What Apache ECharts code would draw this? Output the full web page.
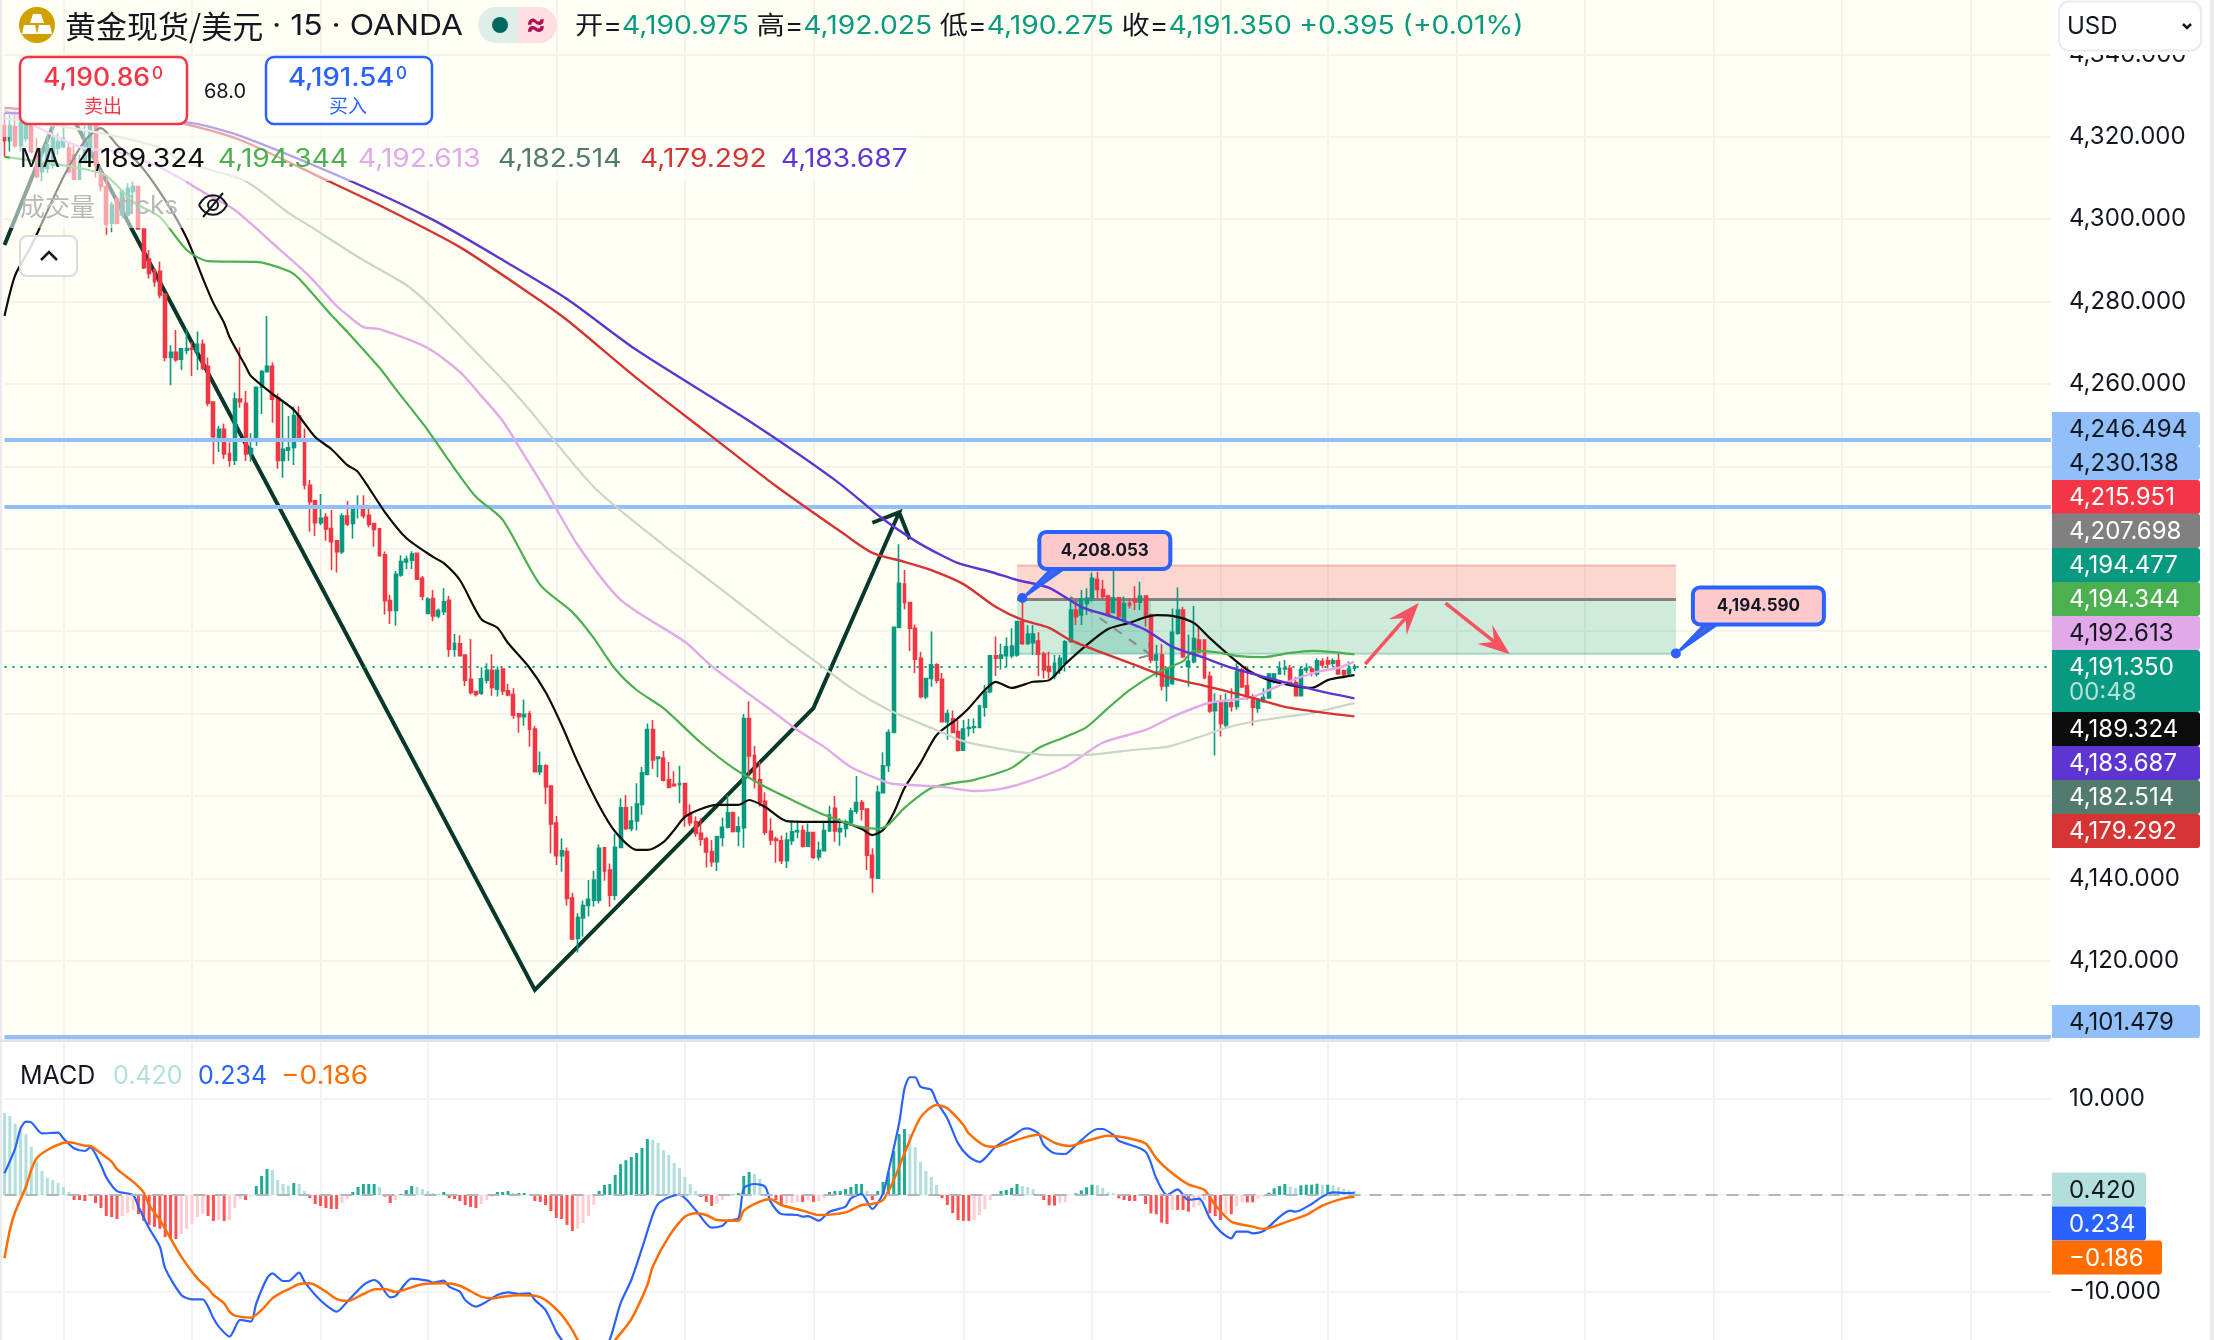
<!DOCTYPE html>
<html>
<head>
<meta charset="utf-8">
<title>黄金现货/美元 15 OANDA</title>
<style>html,body{margin:0;padding:0;background:#fff}#chart{width:2214px;height:1340px}</style>
<script src="https://cdn.jsdelivr.net/npm/echarts@6/dist/echarts.min.js"></script>
</head>
<body>
<div id="chart"></div>
<script>
// 15-minute candles, one row per bar: open, close, low, high
const candleRows = [
[4322.7,4319.0,4315.2,4325.7],[4319.0,4322.7,4316.4,4325.3],[4322.4,4317.8,4317.3,4326.1],[4317.8,4324.1,4316.4,4326.9],
[4319.6,4322.8,4318.8,4326.5],[4322.8,4316.4,4316.0,4325.3],[4316.4,4310.3,4309.9,4319.6],[4311.5,4313.5,4309.1,4317.2],
[4312.3,4318.0,4311.1,4320.4],[4313.1,4319.6,4312.3,4322.8],[4317.2,4318.8,4315.6,4320.8],[4317.6,4319.6,4317.2,4322.8],
[4317.2,4311.5,4311.1,4318.8],[4315.6,4309.7,4309.5,4318.4],[4309.7,4313.5,4309.5,4315.6],[4313.9,4318.8,4313.5,4322.8],
[4315.6,4322.8,4314.8,4324.5],[4322.8,4313.1,4310.1,4323.7],[4310.7,4307.9,4306.7,4311.9],[4307.9,4298.7,4296.2,4309.9],
[4299.0,4303.4,4296.8,4304.2],[4305.0,4299.0,4298.7,4305.2],[4301.0,4306.7,4300.2,4307.1],[4301.0,4307.5,4300.6,4308.7],
[4306.7,4307.9,4303.4,4309.1],[4307.9,4297.6,4297.4,4307.9],[4297.6,4288.2,4287.9,4297.8],[4290.3,4286.8,4285.6,4292.5],
[4287.7,4284.8,4283.6,4288.1],[4287.3,4281.6,4280.8,4289.7],[4281.8,4266.4,4265.5,4282.0],[4266.4,4267.7,4259.7,4269.4],
[4267.7,4265.9,4265.4,4273.1],[4266.0,4268.5,4263.4,4268.6],[4268.2,4268.6,4267.2,4273.5],[4268.6,4268.4,4261.9,4270.2],
[4267.8,4269.6,4263.4,4272.7],[4269.6,4263.8,4263.4,4270.8],[4264.3,4255.3,4254.6,4266.4],[4255.6,4247.2,4240.5,4255.7],
[4246.9,4249.0,4243.5,4249.8],[4249.0,4243.0,4241.8,4250.3],[4243.1,4241.5,4239.9,4245.8],[4241.5,4256.3,4240.3,4257.9],
[4256.3,4255.7,4254.2,4268.9],[4255.3,4243.0,4241.3,4258.3],[4243.0,4244.3,4241.1,4248.0],[4246.4,4259.2,4245.0,4259.2],
[4259.2,4263.0,4252.7,4263.4],[4263.0,4264.3,4262.7,4276.5],[4264.3,4256.3,4250.6,4265.2],[4256.7,4241.4,4239.4,4257.7],
[4241.4,4244.1,4237.2,4255.7],[4243.9,4244.5,4241.3,4252.2],[4244.6,4252.3,4240.3,4254.5],[4252.2,4246.4,4246.1,4254.6],
[4246.5,4235.5,4234.4,4249.2],[4235.4,4231.4,4224.1,4236.7],[4231.6,4226.3,4223.1,4231.8],[4226.3,4227.4,4225.7,4233.3],
[4227.6,4224.8,4221.9,4228.6],[4224.9,4221.7,4214.8,4229.4],[4221.9,4219.3,4214.2,4221.9],[4219.3,4227.9,4218.7,4228.6],
[4227.9,4226.0,4225.5,4231.6],[4226.1,4229.9,4222.4,4230.2],[4230.0,4230.4,4227.3,4233.0],[4230.1,4228.0,4227.3,4233.0],
[4228.1,4225.9,4225.2,4229.8],[4226.1,4224.7,4220.5,4226.1],[4224.8,4218.3,4218.2,4225.1],[4218.5,4207.4,4204.0,4219.3],
[4207.4,4205.0,4201.7,4208.8],[4205.0,4213.8,4201.3,4214.6],[4213.6,4216.9,4213.2,4218.4],[4216.8,4217.4,4215.1,4218.3],
[4217.2,4218.7,4215.1,4219.4],[4218.9,4212.6,4212.4,4218.9],[4212.8,4208.5,4207.5,4213.4],[4204.3,4207.7,4204.1,4208.2],
[4207.9,4203.7,4202.4,4210.0],[4203.7,4205.0,4203.1,4205.5],[4204.7,4207.1,4203.9,4210.4],[4207.5,4195.6,4193.8,4208.5],
[4195.6,4197.0,4193.8,4199.3],[4196.9,4194.0,4194.0,4199.0],[4194.2,4188.1,4186.7,4194.2],[4188.3,4185.1,4184.6,4198.1],
[4185.3,4184.6,4184.1,4185.5],[4184.9,4188.4,4184.5,4191.2],[4188.1,4190.5,4187.3,4192.2],[4190.5,4186.3,4184.3,4194.4],
[4185.9,4190.5,4184.1,4191.4],[4190.8,4185.5,4184.5,4190.8],[4185.5,4184.5,4184.2,4187.2],[4184.6,4179.6,4178.7,4186.1],
[4179.9,4179.2,4175.3,4179.9],[4179.2,4179.8,4177.0,4183.4],[4179.9,4176.2,4171.9,4180.6],[4176.2,4165.9,4165.9,4177.0],
[4165.9,4167.3,4165.1,4170.8],[4167.3,4162.2,4158.0,4167.7],[4162.4,4153.2,4146.1,4162.4],[4153.4,4145.5,4143.2,4155.1],
[4145.5,4146.7,4141.6,4149.7],[4146.5,4135.1,4133.4,4147.5],[4135.2,4125.3,4125.0,4136.5],[4125.4,4130.5,4122.0,4131.5],
[4130.4,4133.4,4125.8,4134.6],[4133.4,4134.9,4130.7,4139.6],[4134.7,4139.6,4133.1,4141.8],[4134.7,4147.3,4133.9,4148.2],
[4147.4,4141.8,4139.4,4147.6],[4142.0,4135.9,4133.1,4143.6],[4135.9,4147.5,4134.7,4150.8],[4147.5,4157.1,4147.3,4159.4],
[4157.1,4152.1,4151.7,4160.2],[4152.1,4153.9,4151.4,4157.5],[4153.9,4158.0,4151.6,4163.1],[4157.9,4165.6,4155.4,4167.0],
[4165.2,4176.1,4165.1,4177.6],[4176.1,4168.7,4166.5,4178.4],[4169.1,4169.4,4164.5,4169.4],[4169.2,4163.8,4163.5,4170.9],
[4163.9,4162.1,4161.8,4168.2],[4162.8,4162.5,4162.2,4166.0],[4162.7,4163.0,4158.2,4167.3],[4163.0,4155.1,4152.5,4163.0],
[4155.4,4153.5,4152.7,4158.0],[4153.7,4150.9,4150.1,4155.0],[4150.9,4149.5,4147.9,4154.6],[4149.5,4146.4,4142.6,4150.1],
[4146.5,4144.0,4142.8,4149.3],[4144.0,4150.1,4141.8,4150.3],[4149.9,4152.4,4147.7,4154.7],[4152.4,4155.9,4152.1,4160.2],
[4155.9,4151.4,4151.1,4156.2],[4151.4,4152.5,4147.8,4155.0],[4152.3,4178.8,4147.4,4179.9],[4178.8,4169.7,4164.3,4183.0],
[4169.8,4163.9,4161.8,4172.1],[4163.9,4158.4,4157.4,4168.3],[4158.7,4151.2,4150.5,4160.9],[4151.4,4149.3,4148.1,4154.6],
[4149.5,4149.2,4143.8,4150.1],[4149.1,4144.3,4143.5,4150.4],[4144.3,4149.3,4142.5,4151.1],[4149.1,4151.3,4148.1,4153.8],
[4151.3,4151.6,4149.7,4153.8],[4151.6,4147.8,4147.5,4152.9],[4147.8,4151.1,4147.8,4153.3],[4151.1,4145.1,4144.7,4151.2],
[4145.2,4146.8,4144.3,4148.9],[4146.7,4151.6,4146.7,4153.8],[4151.5,4155.4,4151.3,4157.6],[4157.0,4151.5,4148.9,4160.0],
[4151.3,4152.1,4147.9,4154.6],[4152.1,4153.7,4149.9,4154.2],[4153.5,4156.3,4153.2,4157.1],[4156.3,4158.4,4155.6,4164.8],
[4158.4,4156.8,4154.0,4159.0],[4156.8,4145.6,4142.0,4156.8],[4145.6,4140.2,4136.5,4147.3],[4140.0,4160.9,4139.8,4162.5],
[4160.8,4167.3,4160.6,4170.6],[4167.4,4175.4,4165.8,4176.2],[4175.4,4200.9,4175.2,4201.1],[4200.9,4211.6,4200.9,4221.1],
[4211.4,4206.9,4205.3,4214.8],[4206.9,4200.7,4195.2,4207.1],[4200.7,4193.2,4189.8,4201.6],[4193.4,4184.1,4183.7,4195.0],
[4184.1,4188.5,4183.5,4188.7],[4188.5,4191.8,4186.5,4199.9],[4191.8,4188.1,4187.3,4192.2],[4188.3,4178.0,4178.0,4189.8],
[4178.0,4180.0,4173.6,4181.0],[4178.7,4175.4,4175.2,4180.7],[4175.6,4171.1,4170.8,4178.4],[4171.1,4176.2,4171.0,4178.4],
[4176.4,4176.6,4174.4,4178.7],[4176.6,4176.8,4175.2,4178.8],[4176.6,4181.8,4176.4,4182.1],[4181.5,4185.3,4179.2,4186.9],
[4185.3,4194.0,4184.9,4194.0],[4194.0,4193.4,4189.1,4198.7],[4193.4,4194.2,4190.7,4196.9],[4194.0,4196.2,4191.2,4198.5],
[4194.0,4196.4,4193.4,4200.7],[4194.2,4202.3,4193.8,4202.3],[4202.3,4197.0,4196.6,4207.9],[4197.0,4199.3,4196.6,4201.4],
[4197.2,4199.3,4194.2,4201.5],[4197.6,4194.4,4189.1,4199.7],[4194.4,4190.6,4188.5,4195.0],[4191.4,4190.2,4188.5,4195.0],
[4189.0,4192.2,4188.3,4194.2],[4190.6,4193.4,4189.6,4194.2],[4192.2,4197.4,4190.2,4197.8],[4197.4,4205.1,4197.2,4208.2],
[4205.1,4203.5,4201.5,4207.5],[4203.9,4207.8,4201.5,4210.0],[4206.7,4208.0,4203.9,4210.4],[4208.0,4212.8,4207.2,4214.2],
[4212.6,4210.1,4208.0,4214.4],[4210.1,4208.4,4208.0,4212.4],[4208.5,4203.9,4203.5,4208.8],[4204.5,4208.1,4204.3,4215.0],
[4208.1,4203.5,4202.7,4208.2],[4202.7,4206.7,4202.3,4208.4],[4206.7,4206.3,4205.5,4207.6],[4207.8,4207.1,4205.1,4210.9],
[4207.1,4208.5,4205.1,4212.0],[4208.5,4203.9,4201.1,4208.5],[4203.9,4193.0,4192.2,4204.3],[4193.0,4194.2,4188.8,4196.6],
[4194.2,4186.7,4185.6,4196.8],[4186.7,4190.7,4182.9,4190.7],[4187.3,4199.7,4186.9,4205.5],[4199.5,4205.1,4199.1,4210.6],
[4205.1,4193.8,4193.4,4205.9],[4191.4,4192.7,4186.5,4199.1],[4192.6,4198.2,4192.2,4206.1],[4197.8,4195.0,4194.6,4201.2],
[4197.8,4188.7,4188.3,4197.8],[4189.0,4180.6,4180.2,4190.2],[4180.7,4182.7,4169.8,4184.9],[4182.7,4177.6,4174.4,4184.5],
[4177.2,4182.6,4176.4,4184.9],[4182.6,4181.7,4180.5,4186.1],[4181.7,4190.1,4180.9,4192.2],[4190.6,4186.5,4186.1,4191.1],
[4186.7,4183.7,4183.3,4191.4],[4183.9,4181.5,4177.1,4184.7],[4181.3,4183.3,4180.2,4183.3],[4182.9,4183.9,4182.6,4186.1],
[4183.8,4189.6,4183.6,4189.8],[4188.3,4189.6,4187.3,4189.8],[4189.6,4191.0,4189.4,4192.6],[4190.8,4191.0,4189.3,4193.0],
[4191.0,4187.3,4187.0,4191.8],[4187.5,4184.3,4184.1,4188.9],[4184.3,4190.6,4184.1,4191.4],[4190.6,4191.0,4189.8,4192.2],
[4190.8,4190.2,4189.0,4191.4],[4189.6,4192.8,4189.0,4193.4],[4192.6,4191.8,4191.0,4193.4],[4192.8,4192.0,4191.0,4193.8],
[4192.2,4192.8,4191.4,4193.4],[4192.8,4189.6,4189.4,4194.6],[4190.4,4189.4,4188.5,4190.6],[4189.7,4190.8,4189.0,4192.6],
[4190.975,4191.35,4190.275,4192.025]
];

// Moving averages, [bar, price]
const maBlack = [[0,4276.5],[2,4286.4],[5,4293.5],[11,4310.2],[15,4319.0],[18,4322.1],[21,4318.0],[25,4313.6],[30,4304.6],[34,4295.4],[37,4285.7],[39,4279.6],[41,4274.8],[42,4271.4],[45,4264.3],[46,4261.9],[50,4257.6],[54,4253.7],[58,4247.1],[61,4244.2],[64,4240.3],[66,4238.6],[71,4228.9],[75,4222.6],[80,4218.0],[82,4216.5],[85,4212.4],[89,4202.9],[92,4200.8],[94,4197.1],[98,4191.1],[101,4185.2],[104,4177.2],[107,4168.2],[111,4157.6],[114,4151.3],[118,4146.9],[120,4146.9],[123,4148.8],[125,4151.7],[127,4154.9],[130,4156.8],[133,4157.8],[137,4157.8],[139,4159.0],[142,4157.3],[146,4153.9],[152,4153.7],[156,4153.7],[160,4152.0],[162,4150.5],[164,4151.7],[166,4155.9],[168,4161.9],[171,4168.0],[174,4174.8],[178,4178.9],[180,4181.3],[183,4185.7],[185,4187.7],[188,4186.2],[192,4187.7],[195,4188.1],[198,4192.0],[202,4196.6],[206,4200.5],[210,4202.0],[213,4203.4],[215,4203.9],[218,4203.7],[222,4202.0],[225,4198.3],[229,4193.7],[232,4190.6],[236,4188.1],[240,4186.9],[244,4186.2],[247,4188.1],[250,4188.9],[252,4189.324]];
const maGreen = [[0,4315.1],[14,4312.4],[19,4310.5],[24,4304.2],[29,4300.5],[34,4292.5],[38,4289.8],[47,4289.6],[53,4287.4],[55,4285.5],[61,4276.7],[64,4272.6],[70,4263.9],[73,4258.8],[79,4248.8],[83,4241.3],[88,4232.6],[93,4227.0],[100,4211.2],[106,4204.6],[110,4198.3],[114,4190.8],[118,4185.7],[123,4181.3],[130,4172.9],[136,4166.8],[142,4162.2],[147,4159.0],[153,4155.4],[159,4152.7],[163,4152.0],[165,4153.0],[168,4157.1],[173,4161.9],[177,4163.1],[181,4163.9],[188,4166.8],[193,4171.6],[198,4174.3],[202,4176.7],[206,4181.3],[210,4185.7],[215,4189.8],[220,4192.7],[222,4195.2],[226,4194.9],[230,4194.0],[235,4193.7],[240,4194.7],[244,4195.2],[248,4194.9],[252,4194.344]];
const maLilac = [[0,4326.5],[14,4317.5],[21,4316.3],[29,4312.6],[38,4305.9],[43,4302.2],[50,4294.2],[57,4286.0],[62,4278.9],[64,4276.7],[67,4273.8],[70,4273.3],[79,4268.7],[85,4262.9],[89,4257.1],[93,4251.0],[97,4242.7],[101,4234.3],[107,4220.9],[115,4207.6],[127,4197.4],[132,4191.5],[139,4184.7],[143,4180.9],[148,4176.0],[153,4171.9],[158,4167.0],[164,4163.6],[166,4162.9],[175,4162.2],[181,4161.2],[186,4161.7],[192,4163.9],[198,4167.0],[205,4172.9],[213,4176.0],[218,4179.2],[225,4182.6],[233,4184.0],[239,4187.4],[245,4190.1],[249,4191.1],[252,4192.613]];
const maSage = [[0,4324.5],[17,4321.1],[29,4317.3],[33,4314.1],[45,4309.2],[53,4301.5],[57,4298.3],[66,4290.8],[75,4284.0],[79,4279.6],[86,4270.4],[93,4261.0],[98,4253.7],[110,4235.0],[123,4220.9],[131,4212.9],[140,4203.9],[146,4197.8],[151,4193.0],[158,4186.2],[165,4180.9],[173,4176.5],[179,4173.3],[187,4171.2],[195,4169.9],[201,4169.9],[211,4171.2],[217,4171.9],[223,4174.3],[228,4176.5],[233,4178.0],[239,4179.2],[244,4180.1],[252,4182.514]];
const maRed = [[0,4327.0],[25,4324.5],[33,4323.3],[44,4319.2],[60,4309.5],[71,4302.7],[85,4293.2],[99,4281.1],[105,4275.5],[118,4261.4],[131,4248.3],[144,4235.2],[157,4223.3],[162,4219.0],[168,4216.8],[173,4214.8],[179,4211.4],[185,4205.9],[190,4202.7],[195,4200.8],[199,4197.8],[205,4194.7],[211,4191.8],[217,4188.9],[225,4186.4],[233,4183.8],[239,4181.6],[245,4180.4],[252,4179.292]];
const maPurple = [[0,4325.8],[20,4324.8],[35,4323.3],[44,4320.2],[65,4309.0],[80,4299.8],[94,4289.3],[105,4280.6],[118,4268.2],[139,4251.0],[155,4236.7],[164,4227.2],[170,4221.9],[174,4219.0],[178,4216.5],[184,4214.4],[189,4212.4],[195,4210.5],[201,4205.9],[207,4203.4],[213,4200.3],[218,4196.2],[224,4193.5],[229,4191.1],[236,4188.6],[241,4186.9],[247,4185.0],[252,4183.687]];

// MACD histogram, one value per bar
const macdHist = [
8.5,8.2,7.4,6.8,6.3,5.0,3.45,2.5,1.76,1.55,1.24,0.83,0.31,-0.52,-0.52,-0.62,-0.17,-0.83,-1.35,-2.18,
-2.28,-2.49,-2.18,-1.87,-1.55,-1.97,-2.69,-3.1,-3.3,-3.5,-4.35,-4.56,-4.56,-4.04,-3.5,-3.0,-2.28,-1.97,-2.18,-2.69,
-2.59,-2.69,-2.59,-1.35,-0.41,-0.52,-0.15,0.93,1.97,2.69,2.59,1.55,1.14,0.93,1.24,1.14,0.41,-0.31,-0.93,-1.14,
-1.35,-1.45,-1.45,-0.83,-0.41,0.31,0.83,1.14,1.14,1.14,0.83,-0.17,-0.83,-0.52,0.1,0.52,0.93,0.83,0.62,0.41,
0.2,0.1,0.31,-0.31,-0.41,-0.62,-1.04,-1.24,-1.35,-0.93,-0.52,-0.2,0.31,0.31,0.41,0.2,0.2,0.2,0.02,-0.62,
-0.72,-1.04,-1.66,-2.38,-2.49,-3.1,-3.73,-3.5,-2.9,-2.18,-1.04,0.41,1.04,1.14,2.07,3.2,3.6,3.94,4.35,4.87,
5.8,5.7,5.39,4.66,4.15,3.32,2.8,1.87,1.14,0.41,-0.2,-0.72,-1.14,-0.93,-0.52,-0.1,0.05,0.2,1.97,2.38,
2.18,1.66,0.1,-0.1,-0.52,-1.14,-0.93,-0.83,-0.72,-0.72,-0.52,-0.72,-0.62,-0.31,0.31,0.41,0.41,0.62,0.83,1.14,
1.14,0.41,-0.52,0.41,1.35,2.38,4.56,6.32,6.84,6.32,4.97,3.42,2.49,1.87,1.04,-0.31,-1.04,-1.87,-2.59,-2.69,
-2.69,-2.59,-2.07,-1.45,-0.52,0.05,0.41,0.52,0.73,1.14,0.93,0.83,0.62,0.1,-0.52,-1.07,-1.1,-0.86,-0.76,-0.05,
0.17,0.48,0.8,1.07,1.0,0.73,0.28,0.17,-0.35,-0.52,-0.62,-0.62,-0.07,-0.93,-1.9,-2.0,-2.87,-3.0,-1.55,-1.55,
-1.55,-1.73,-1.28,-1.1,-0.52,-1.9,-2.18,-2.59,-2.0,-2.0,-1.2,-0.76,-0.76,-0.76,-0.35,-0.17,0.24,0.69,0.93,1.14,
0.86,0.72,1.0,1.07,1.07,1.17,1.07,1.07,1.0,0.83,0.66,0.52,0.42
];
const macdLine = [[0,2.25],[2,4.84],[3,6.9],[4,7.6],[5,7.53],[7,6.39],[10,6.46],[11,5.87],[13,4.84],[15,4.56],[16,4.94],[18,3.11],[19,1.83],[21,0.41],[24,0],[25,-1.21],[27,-3.45],[29,-5.35],[30,-7.6],[33,-10.36],[35,-10.81],[37,-10.81],[38,-11.57],[39,-12.78],[40,-13.64],[42,-14.68],[44,-12.95],[46,-13.13],[47,-11.23],[49,-8.64],[50,-8.12],[52,-8.91],[53,-8.91],[55,-8.05],[56,-8.98],[58,-10.36],[60,-11.4],[62,-12.09],[64,-11.05],[67,-9.33],[69,-8.81],[70,-9.15],[72,-10.6],[73,-10.47],[76,-8.67],[79,-8.88],[80,-9.08],[82,-8.88],[83,-9.5],[85,-10.02],[86,-10.88],[88,-11.57],[90,-11.05],[92,-10.36],[94,-10.09],[96,-10.26],[98,-10.19],[99,-10.88],[101,-11.92],[103,-14.16],[104,-15.0],[106,-16.5],[108,-17.0],[110,-16.5],[112,-15.5],[113,-14.96],[115,-11.23],[117,-8.81],[119,-5.53],[121,-2.07],[122,-0.93],[124,-0.24],[126,0.03],[129,-1.55],[132,-3.39],[134,-3.18],[135,-2.66],[137,-2.42],[138,0.69],[140,1.14],[142,0.86],[143,-0.69],[145,-1.97],[148,-2.07],[149,-2.25],[150,-2.18],[152,-2.66],[154,-1.73],[157,-1.21],[158,-0.35],[160,0.1],[162,-1.45],[164,0.17],[165,2.42],[167,7.43],[168,11.0],[169,12.2],[170,12.2],[171,11.2],[173,10.9],[174,9.67],[176,7.94],[178,5.35],[180,3.97],[182,3.42],[183,3.8],[185,5.0],[188,6.04],[190,6.8],[191,6.9],[193,6.39],[194,5.18],[196,4.32],[198,4.25],[200,5.18],[204,6.84],[205,6.84],[207,6.22],[208,5.63],[213,4.49],[215,1.73],[217,0],[219,0.59],[221,-0.52],[223,-0.38],[225,-2.42],[227,-3.8],[229,-4.49],[230,-3.8],[232,-3.8],[233,-3.97],[235,-3.73],[240,-1.62],[241,-1.73],[244,-0.93],[246,-0.17],[248,0.28],[250,0.2],[252,0.234]];
const signalLine = [[0,-6.56],[1,-3.63],[2,-1.73],[4,0.86],[5,2.59],[6,3.8],[8,4.66],[11,5.42],[12,5.46],[15,5.11],[16,5.08],[18,4.32],[20,3.45],[21,2.69],[24,1.38],[26,0.24],[27,-1.04],[29,-2.59],[31,-4.49],[33,-6.39],[36,-8.64],[38,-9.67],[39,-10.36],[41,-11.23],[42,-12.09],[43,-12.5],[46,-12.71],[48,-11.92],[50,-10.71],[52,-10.02],[53,-9.78],[55,-9.22],[57,-9.15],[60,-10.02],[62,-10.78],[64,-10.98],[67,-10.26],[69,-9.78],[71,-9.74],[73,-10.05],[76,-9.57],[78,-9.26],[82,-9.15],[85,-9.4],[89,-10.54],[91,-10.71],[93,-10.54],[96,-10.4],[99,-10.45],[101,-10.88],[104,-12.43],[106,-14.0],[107,-15.0],[109,-16.2],[111,-16.6],[113,-15.8],[114,-15.03],[117,-12.88],[120,-9.33],[121,-7.43],[124,-4.32],[127,-2.25],[129,-1.9],[131,-2.07],[133,-2.59],[137,-2.66],[138,-1.62],[141,-0.69],[143,-0.45],[145,-1.04],[149,-1.62],[152,-2.07],[157,-1.8],[160,-1.04],[162,-0.93],[164,-0.52],[166,1.55],[168,4.32],[171,8.05],[174,9.33],[176,8.98],[179,7.25],[180,6.39],[183,5.11],[185,5.0],[188,5.53],[191,6.05],[193,6.25],[196,5.42],[199,5.08],[201,5.42],[206,6.15],[209,5.98],[213,5.35],[215,3.8],[218,2.25],[221,1.1],[224,0.52],[226,-1.04],[229,-2.76],[233,-3.28],[235,-3.52],[240,-2.66],[243,-2.07],[246,-1.1],[250,-0.35],[252,-0.186]];

// Drawing tools placed on the price chart, all in [bar, price]
const zigzag = [[0,4293.7],[11,4328.9],[99,4112.9],[151,4181.3],[167,4228.8],[162,4226.3],[167,4228.8],[169,4222.3]];
const positionZones = [[189,312,4215.951,4207.698],[189,312,4207.698,4194.477],[199,214,4207.698,4194.477]];
const entryLevel = [[189,4207.698],[312,4207.698]];
const forecastArrows = [[254,4192.0,264,4206.8],[269,4206.8,281,4194.4]];
const dashedPath = [[199,4208.3,214,4194.2]];
const priceCallouts = [[190,4208.053],[312,4194.590]];
const levelLines = [4246.494,4230.138,4101.479];
const lastPrice = 4191.350;

// Price scale tags, top to bottom
const priceTags = [4246.494,4230.138,4215.951,4207.698,4194.477,4194.344,4192.613,4191.350,4189.324,4183.687,4182.514,4179.292,4101.479];
const macdTags = [0.420,0.234,-0.186];
const maLegend = [4189.324,4194.344,4192.613,4182.514,4179.292,4183.687];

const barCount = 383;
const gridBars = [11,35,59,79,103,127,151,179,203,227,247,271,295,319,343,367];

const UP = '#089981', DOWN = '#F23645';
const UI = 'Inter, "Noto Sans CJK SC", sans-serif';
const tagTops = [412,446,480,513.5,548,582,616,650,712,746,780,814,1005];
const tagHeights = [34,34,34,34.5,34,34,34,62,34,34,34,34,33];
const tagFills = ['#90BFF9','#90BFF9',DOWN,'#808080',UP,'#4CAF50','#E1A9E8',UP,'#0C0C0C','#5E35D1','#527A6E','#D63333','#90BFF9'];
const tagInks = ['#131722','#131722','#fff','#fff','#fff','#fff','#131722','#fff','#fff','#fff','#fff','#fff','#131722'];
const macdTagTops = [1172.5,1206.5,1240.5];
const macdTagRight = [2146,2146,2162];
const macdTagFills = ['#B2DFDB','#2962FF','#FF6D00'];
const macdTagInks = ['#131722','#fff','#fff'];
const maColors = ['#0C0C0C','#4CAF50','#E1A9E8','#C9D6CB','#D63333','#5E35D1'];
const maLegendColors = ['#0C0C0C','#4CAF50','#E1A9E8','#527A6E','#D63333','#5E35D1'];
const maLegendX = [77,218,358,498,640,781];

const fmt = (v) => v.toLocaleString('en-US',{minimumFractionDigits:3,maximumFractionDigits:3});
const fmtSigned = (v) => (v < 0 ? '\u2212' : '') + fmt(Math.abs(v));
const categories = [];
for (let i = 0; i < barCount; i++) categories.push(String(i));

const gridLineAt = (index) => gridBars.indexOf(index) >= 0;

function txt(text, x, y, font, fill, z, align, widen) {
  return {type:'text', z:z || 60, silent:true, x, y, scaleX:widen || 1, originX:0,
    style:{text, x:0, y:0, font, fill, textAlign:align || 'left', textVerticalAlign:'middle'}};
}
function box(x, y, w, h, fill, z, r, stroke, lineWidth) {
  return {type:'rect', z:z, silent:true, shape:{x, y, width:w, height:h, r:r || 0},
    style:{fill, stroke:stroke || 'none', lineWidth:lineWidth || 0}};
}

// Panes, then everything that sits on top of the plotted data
const graphicItems = [
  box(0,0,2214,1041,'#FFFFF3',-10),
  box(0,1041,2214,299,'#FFFFFF',-10),
  box(2050,0,160,1340,'#FFFFFF',-9),
  box(0,0,2,1340,'#EAEAEF',-8),
  box(2210,0,4,1340,'#EAEAEF',-8),
  box(0,1039,2050,3,'#E0E3EB',70),
  // washed rows behind the legend
  box(3,56,440,81,'rgba(255,255,255,0.55)',50),
  box(10,137,905,44,'rgba(255,255,255,0.55)',50),
  box(10,181,176,47,'rgba(255,255,255,0.55)',50),
  // symbol header
  {type:'circle',z:60,silent:true,shape:{cx:37,cy:25,r:18},style:{fill:'#D19F00'}},
  {type:'polygon',z:61,silent:true,shape:{points:[[33,14],[41,14],[44,23],[30,23]]},style:{fill:'#fff'}},
  {type:'polygon',z:61,silent:true,shape:{points:[[24,25],[35,25],[37,34],[22,34]]},style:{fill:'#fff'}},
  {type:'polygon',z:61,silent:true,shape:{points:[[39,25],[50,25],[52,34],[37,34]]},style:{fill:'#fff'}},
  txt('黄金现货/美元',65,26,'31px "Noto Sans CJK SC", sans-serif','#131722'),
  txt('· 15 · OANDA',272,26,'29px Inter, sans-serif','#131722',60,'left',1.1),
  box(478,7,40,36,'#E0EEE9',60,[18,0,0,18]),
  box(518,7,39,36,'#FFDDE3',60,[0,18,18,0]),
  {type:'circle',z:61,silent:true,shape:{cx:500,cy:25,r:8},style:{fill:'#00695C'}},
  txt('≈',536,25,'bold 30px '+UI,'#B0104F',61,'center'),
  {type:'text',z:60,silent:true,x:575,y:26,scaleX:1.13,style:{x:0,y:0,textVerticalAlign:'middle',
    text:'{l|开=}{v|4,190.975}  {l|高=}{v|4,192.025}  {l|低=}{v|4,190.275}  {l|收=}{v|4,191.350}  {v|+0.395 (+0.01%)}',
    rich:{l:{font:'25px '+UI,fill:'#131722'},v:{font:'25px '+UI,fill:UP}}}},
  // bid and ask buttons
  box(20,57,167,67,'#FFFFFF',60,8,DOWN,2.5),
  txt('4,190.86',43,78,'500 25px '+UI,DOWN,61,'left',1.06),
  txt('0',152,74,'500 17px '+UI,DOWN,61),
  txt('卖出',103,106,'19px "Noto Sans CJK SC", sans-serif',DOWN,61,'center'),
  txt('68.0',225,92,'20px '+UI,'#131722',60,'center'),
  box(266,57,166,67,'#FFFFFF',60,8,'#2962FF',2.5),
  txt('4,191.54',288,78,'500 25px '+UI,'#2962FF',61,'left',1.1),
  txt('0',396,74,'500 17px '+UI,'#2962FF',61),
  txt('买入',348,106,'19px "Noto Sans CJK SC", sans-serif','#2962FF',61,'center'),
  // indicator legends
  txt('MA',20,159,'25px '+UI,'#131722'),
  txt('成交量',20,206,'25px "Noto Sans CJK SC", sans-serif','#B8B8B8'),
  txt('ticks',120,206,'25px '+UI,'#B8B8B8',60,'left',1.05),
  {type:'bezierCurve',z:60,silent:true,shape:{x1:199,y1:205,cpx1:206,cpy1:192,x2:227,y2:205,cpx2:220,cpy2:192},style:{stroke:'#131722',lineWidth:2,fill:'none'}},
  {type:'bezierCurve',z:60,silent:true,shape:{x1:199,y1:205,cpx1:206,cpy1:218,x2:227,y2:205,cpx2:220,cpy2:218},style:{stroke:'#131722',lineWidth:2,fill:'none'}},
  {type:'circle',z:60,silent:true,shape:{cx:213,cy:205,r:5},style:{stroke:'#131722',lineWidth:2,fill:'none'}},
  {type:'line',z:60,silent:true,shape:{x1:203,y1:217,x2:223,y2:193},style:{stroke:'#131722',lineWidth:2}},
  box(20,236,57,40,'rgba(255,255,255,0.85)',60,7,'#DADADA',2),
  {type:'polyline',z:61,silent:true,shape:{points:[[41,260],[49,252],[57,260]]},style:{stroke:'#131722',lineWidth:2.5,fill:'none'}},
  txt('MACD',20,1076,'25px '+UI,'#131722'),
  txt(fmtSigned(macdTags[0]),113,1076,'25px '+UI,'#B2DFDB'),
  txt(fmtSigned(macdTags[1]),198,1076,'25px '+UI,'#2962FF'),
  txt(fmtSigned(macdTags[2]),281,1076,'25px '+UI,'#FF6D00',60,'left',1.12),
  // currency selector
  box(2050,0,160,55,'#FFFFFF',80),
  box(2059,1.5,142,49,'#FFFFFF',81,10,'#EBEBEB',2),
  txt('USD',2067,27,'24px '+UI,'#131722',82),
  {type:'polyline',z:82,silent:true,shape:{points:[[2183,24],[2187,28],[2191,24]]},style:{stroke:'#131722',lineWidth:2.5,fill:'none'}},
  txt('00:48',2069,693,'24px '+UI,'rgba(255,255,255,0.7)',76)
];
maLegend.forEach((v,k) => graphicItems.push(txt(fmt(v),maLegendX[k],159,'25px '+UI,maLegendColors[k],60,'left',1.125)));
priceTags.forEach((v,k) => {
  graphicItems.push(box(2052,tagTops[k],148,tagHeights[k],tagFills[k],75,[0,3,3,0]));
  graphicItems.push(txt(fmt(v),2069,tagTops[k]+18,'24px '+UI,tagInks[k],76));
});
macdTags.forEach((v,k) => {
  graphicItems.push(box(2052,macdTagTops[k],macdTagRight[k]-2052,34,macdTagFills[k],75,[0,3,3,0]));
  graphicItems.push(txt(fmtSigned(v),2069,macdTagTops[k]+18,'24px '+UI,macdTagInks[k],76));
});

const zoneFills = ['rgba(242,54,69,0.2)','rgba(8,153,129,0.2)','rgba(8,153,129,0.22)'];
const zoneEdges = ['rgba(242,54,69,0.3)','rgba(8,153,129,0.3)','rgba(8,153,129,0)'];

function renderZone(params, api) {
  const a = api.coord([api.value(0),api.value(2)]);
  const b = api.coord([api.value(1),api.value(3)]);
  const edgeY = params.dataIndex === 0 ? a[1] : b[1];
  return {type:'group',children:[
    {type:'rect',shape:{x:a[0],y:a[1],width:b[0]-a[0],height:b[1]-a[1]},style:{fill:zoneFills[params.dataIndex]}},
    {type:'line',shape:{x1:a[0],y1:edgeY,x2:b[0],y2:edgeY},style:{stroke:zoneEdges[params.dataIndex],lineWidth:2}}
  ]};
}
function renderForecast(params, api) {
  const a = api.coord([api.value(0),api.value(1)]);
  const b = api.coord([api.value(2),api.value(3)]);
  const dx = b[0]-a[0], dy = b[1]-a[1], len = Math.hypot(dx,dy);
  const ux = dx/len, uy = dy/len, nx = -uy, ny = ux;
  const at = (along, side) => [b[0]+ux*along+nx*side, b[1]+uy*along+ny*side];
  return {type:'group',children:[
    {type:'line',shape:{x1:a[0],y1:a[1],x2:b[0]-ux*14,y2:b[1]-uy*14},style:{stroke:'#F7525F',lineWidth:3.5}},
    {type:'polygon',shape:{points:[b,at(-32,12),at(-20,0),at(-32,-12)]},style:{fill:'#F7525F'}}
  ]};
}
function renderDashed(params, api) {
  const a = api.coord([api.value(0),api.value(1)]);
  const b = api.coord([api.value(2),api.value(3)]);
  const stroke = {stroke:'#8A8A8A',lineWidth:2};
  return {type:'group',children:[
    {type:'line',shape:{x1:a[0],y1:a[1],x2:b[0],y2:b[1]},style:Object.assign({lineDash:[9,9]},stroke)},
    {type:'line',shape:{x1:b[0]-12,y1:b[1]+3,x2:b[0],y2:b[1]},style:stroke},
    {type:'line',shape:{x1:b[0]-2,y1:b[1]-12,x2:b[0],y2:b[1]},style:stroke}
  ]};
}
function renderCallout(params, api) {
  const p = api.coord([api.value(0),api.value(1)]);
  const left = p[0]+17, w = 131, h = 37, top = p[1]-66;
  const bottom = top+h;
  return {type:'group',children:[
    {type:'polygon',shape:{points:[[p[0]+4,p[1]-3],[left+12,bottom],[left+24,bottom]]},
      style:{fill:'#4A63E8',stroke:'#2962FF',lineWidth:3}},
    {type:'rect',shape:{x:left,y:top,width:w,height:h,r:7},
      style:{fill:'#FFC9CC',stroke:'#2962FF',lineWidth:4}},
    {type:'text',style:{text:fmt(api.value(1)),x:left+w/2,y:top+h/2,textAlign:'center',textVerticalAlign:'middle',
      font:'bold 17px '+UI,fill:'#131722'}},
    {type:'circle',shape:{cx:p[0],cy:p[1],r:5},style:{fill:'#2962FF'}}
  ]};
}
const maSeries = (name,data,color,width) => ({name,type:'line',xAxisIndex:0,yAxisIndex:0,data,
  showSymbol:false,smooth:0.25,z:5,silent:true,lineStyle:{color,width}});

const histFill = (i) => {
  const v = macdHist[i], prev = i > 0 ? macdHist[i-1] : v+1;
  if (v >= 0) return v >= prev ? '#22AB94' : '#B2DFDB';
  return v <= prev ? '#FF5252' : '#FFCDD2';
};

const chart = echarts.init(document.getElementById('chart'),null,{renderer:'canvas'});
chart.setOption({
  animation:false,
  backgroundColor:'transparent',
  graphic:{elements:graphicItems},
  grid:[
    {left:4.5,top:-28.1,width:2046.4,height:1071.2,outerBoundsMode:'none'},
    {left:4.5,top:1040.6,width:2046.4,height:347.4,outerBoundsMode:'none'}
  ],
  xAxis:[0,1].map((k) => ({type:'category',gridIndex:k,data:categories,boundaryGap:false,
    axisLine:{show:false},axisTick:{show:false},axisLabel:{show:false},
    splitLine:{show:true,interval:(i) => gridLineAt(i),lineStyle:{color:k ? '#F3F3F3' : '#F3F3EA',width:2}}})),
  yAxis:[
    {type:'value',gridIndex:0,position:'right',min:4100,max:4360,interval:20,scale:true,
     axisLine:{show:false},axisTick:{show:false},
     splitLine:{show:true,showMinLine:false,lineStyle:{color:'#F3F3EA',width:2}},
     axisLabel:{margin:18,align:'left',color:'#131722',fontFamily:'Inter',fontSize:24,
       formatter:(v) => (v === 4100 || v === 4360) ? '' : fmt(v)}},
    {type:'value',gridIndex:1,position:'right',min:-20,max:16,interval:10,
     axisLine:{show:false},axisTick:{show:false},
     splitLine:{show:true,showMaxLine:false,showMinLine:false,lineStyle:{color:'#F3F3F3',width:2}},
     axisLabel:{margin:18,align:'left',color:'#131722',fontFamily:'Inter',fontSize:24,
       formatter:(v) => Math.abs(v) === 10 ? fmtSigned(v) : ''}}
  ],
  series:[
    {name:'zones',type:'custom',xAxisIndex:0,yAxisIndex:0,z:1,silent:true,data:positionZones,
     encode:{x:0,y:2},renderItem:renderZone},
    {name:'zigzag',type:'line',xAxisIndex:0,yAxisIndex:0,z:2,silent:true,data:zigzag,showSymbol:false,
     lineStyle:{color:'#08382C',width:4,join:'miter'}},
    {name:'entry',type:'line',xAxisIndex:0,yAxisIndex:0,z:2,silent:true,data:entryLevel,showSymbol:false,
     lineStyle:{color:'#808080',width:3}},
    {name:'dashed path',type:'custom',xAxisIndex:0,yAxisIndex:0,z:2,silent:true,data:dashedPath,
     encode:{x:0,y:1},renderItem:renderDashed},
    {name:'candles',type:'candlestick',xAxisIndex:0,yAxisIndex:0,z:4,silent:true,clip:false,barWidth:3.4,
     data:candleRows,
     itemStyle:{color:UP,color0:DOWN,borderColor:UP,borderColor0:DOWN,borderWidth:1.6,borderColorDoji:UP},
     markLine:{silent:true,symbol:'none',label:{show:false},animation:false,
       data:levelLines.map((v) => ({yAxis:v,lineStyle:{color:'#90BFF9',width:4,type:'solid'}}))
         .concat([{yAxis:lastPrice,lineStyle:{color:UP,width:2,type:[2,6]}}])}},
    maSeries('MA black',maBlack,maColors[0],2.2),
    maSeries('MA green',maGreen,maColors[1],2.2),
    maSeries('MA lilac',maLilac,maColors[2],2.4),
    maSeries('MA sage',maSage,maColors[3],2.2),
    maSeries('MA red',maRed,maColors[4],2.4),
    maSeries('MA purple',maPurple,maColors[5],2.4),
    {name:'forecast',type:'custom',xAxisIndex:0,yAxisIndex:0,z:6,silent:true,data:forecastArrows,
     encode:{x:0,y:1},renderItem:renderForecast},
    {name:'callouts',type:'custom',xAxisIndex:0,yAxisIndex:0,z:7,silent:true,data:priceCallouts,
     encode:{x:0,y:1},renderItem:renderCallout},
    {name:'histogram',type:'bar',xAxisIndex:1,yAxisIndex:1,barWidth:3,silent:true,z:2,
     data:macdHist.map((v,i) => ({value:v,itemStyle:{color:histFill(i)}})),
     markLine:{silent:true,symbol:'none',label:{show:false},
       data:[{yAxis:0,lineStyle:{color:'#B2B5BE',width:2,type:[12,9]}}]}},
    {name:'MACD',type:'line',xAxisIndex:1,yAxisIndex:1,data:macdLine,showSymbol:false,smooth:0.25,z:3,silent:true,
     lineStyle:{color:'#2962FF',width:2.2}},
    {name:'signal',type:'line',xAxisIndex:1,yAxisIndex:1,data:signalLine,showSymbol:false,smooth:0.25,z:4,silent:true,
     lineStyle:{color:'#FF6D00',width:2.5}}
  ]
});
</script>
</body>
</html>
